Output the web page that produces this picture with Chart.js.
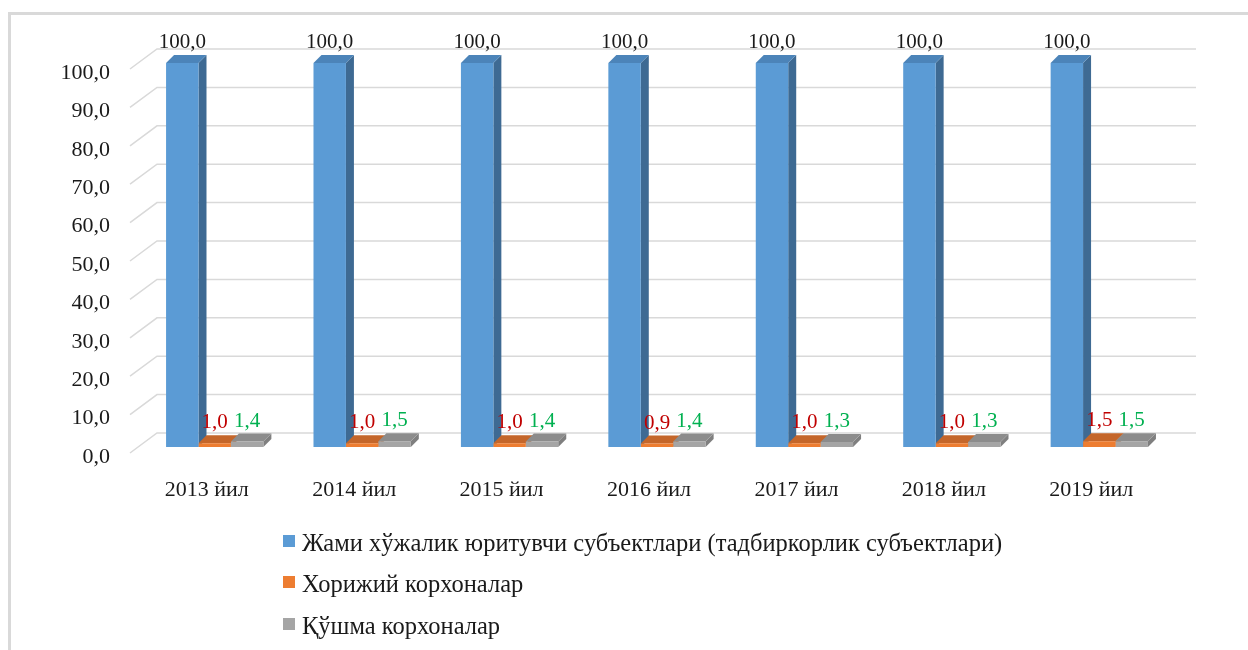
<!DOCTYPE html>
<html>
<head>
<meta charset="utf-8">
<script src="https://cdn.jsdelivr.net/npm/chart.js@4"></script>
<style>
    html, body { margin: 0; padding: 0; background: #fff; }
    #wrap { position: relative; width: 1248px; height: 650px; overflow: hidden; }
    #frame { position: absolute; left: 8px; top: 12px; width: 1300px; height: 700px;
             border-left: 3px solid #d9d9d9; border-top: 3px solid #d9d9d9; }
    #chart { position: absolute; left: 0; top: 0; }
    #legend { position: absolute; left: 283px; top: 522px; font-family: "Liberation Serif", "Times New Roman", serif;
              font-size: 24.5px; color: #1a1a1a; }
    #legend .item { height: 41.5px; display: flex; align-items: center; white-space: nowrap; }
    #legend .box { width: 12px; height: 12px; margin: -4px 7px 0 0; }
</style>
</head>
<body>
<div id="wrap">
    <div id="frame"></div>
    <canvas id="chart" width="1248" height="650"></canvas>
    <div id="legend"></div>
</div>
<script>
const years = ['2013 йил', '2014 йил', '2015 йил', '2016 йил', '2017 йил', '2018 йил', '2019 йил'];
const seriesNames = [
    'Жами хўжалик юритувчи субъектлари (тадбиркорлик субъектлари)',
    'Хорижий корхоналар',
    'Қўшма корхоналар',
];
const totalValues = [100.0, 100.0, 100.0, 100.0, 100.0, 100.0, 100.0];
const foreignValues = [1.0, 1.0, 1.0, 0.9, 1.0, 1.0, 1.5];
const jointValues = [1.4, 1.5, 1.4, 1.4, 1.3, 1.3, 1.5];
const yTicks = [0, 10, 20, 30, 40, 50, 60, 70, 80, 90, 100];

(function () {
    const FONT = '"Liberation Serif", "Times New Roman", serif';
    const frontColors = ['#5b9bd5', '#ed7d31', '#a5a5a5'];
    const sideColors = ['#3e6a93', '#b85f22', '#7f7f7f'];
    const topColors = ['#4c84b9', '#c4662a', '#8c8c8c'];
    const labelColors = ['#1a1a1a', '#c00000', '#00b050'];
    const DX = 8, DY = -8;           // bar depth
    const BACK_DY = -14, BACK_DX = 16; // back wall offset

    function fmt(v) {
        return v.toFixed(1).replace('.', ',');
    }

    const wallPlugin = {
        id: 'wall',
        beforeDatasetsDraw(chart) {
            const ctx = chart.ctx;
            const y = chart.scales.y;
            const area = chart.chartArea;
            ctx.save();
            ctx.strokeStyle = '#d9d9d9';
            ctx.lineWidth = 1.5;
            yTicks.forEach((v) => {
                const yb = y.getPixelForValue(v) + BACK_DY;
                ctx.beginPath();
                ctx.moveTo(130, yb + 20);
                ctx.lineTo(area.left + BACK_DX, yb);
                ctx.lineTo(area.right + 23, yb);
                ctx.stroke();
            });
            // side and top faces, front faces are drawn by Chart.js afterwards
            chart.data.datasets.forEach((ds, i) => {
                const meta = chart.getDatasetMeta(i);
                meta.data.forEach((bar) => {
                    const l = bar.x - bar.width / 2;
                    const r = bar.x + bar.width / 2;
                    ctx.fillStyle = sideColors[i];
                    ctx.beginPath();
                    ctx.moveTo(r, bar.y);
                    ctx.lineTo(r + DX, bar.y + DY);
                    ctx.lineTo(r + DX, bar.base + DY);
                    ctx.lineTo(r, bar.base);
                    ctx.closePath();
                    ctx.fill();
                    ctx.fillStyle = topColors[i];
                    ctx.beginPath();
                    ctx.moveTo(l, bar.y);
                    ctx.lineTo(l + DX, bar.y + DY);
                    ctx.lineTo(r + DX, bar.y + DY);
                    ctx.lineTo(r, bar.y);
                    ctx.closePath();
                    ctx.fill();
                });
            });
            ctx.restore();
        },
        afterDatasetsDraw(chart) {
            const ctx = chart.ctx;
            ctx.save();
            ctx.font = '21px ' + FONT;
            ctx.textAlign = 'center';
            ctx.textBaseline = 'alphabetic';
            chart.data.datasets.forEach((ds, i) => {
                const meta = chart.getDatasetMeta(i);
                ctx.fillStyle = labelColors[i];
                meta.data.forEach((bar, j) => {
                    ctx.fillText(fmt(ds.data[j]), bar.x, bar.y - 15);
                });
            });
            ctx.restore();
        },
    };

    const chart = new Chart(document.getElementById('chart'), {
        type: 'bar',
        data: {
            labels: years,
            datasets: [totalValues, foreignValues, jointValues].map((vals, i) => ({
                label: seriesNames[i],
                data: vals,
                backgroundColor: frontColors[i],
                borderWidth: 0,
                categoryPercentage: 0.66,
                barPercentage: 1.0,
            })),
        },
        options: {
            responsive: false,
            animation: false,
            layout: { padding: { left: 0, right: 75, top: 63, bottom: 143 } },
            plugins: { legend: { display: false }, tooltip: { enabled: false } },
            scales: {
                x: {
                    grid: { display: false },
                    border: { display: false },
                    ticks: { color: '#1a1a1a', font: { family: FONT, size: 22 }, padding: 22, labelOffset: -8, maxRotation: 0 },
                    afterFit(scale) { scale.height = 60; },
                },
                y: {
                    min: 0,
                    max: 100,
                    grid: { display: false, drawTicks: false },
                    border: { display: false },
                    ticks: {
                        stepSize: 10,
                        padding: 31,
                        labelOffset: 10,
                        color: '#1a1a1a',
                        font: { family: FONT, size: 22 },
                        callback: (v) => fmt(v),
                    },
                    afterFit(scale) { scale.width = 141; },
                },
            },
        },
        plugins: [wallPlugin],
    });

    const legend = document.getElementById('legend');
    chart.data.datasets.forEach((ds, i) => {
        const item = document.createElement('div');
        item.className = 'item';
        const box = document.createElement('span');
        box.className = 'box';
        box.style.background = frontColors[i];
        const text = document.createElement('span');
        text.textContent = ds.label;
        item.appendChild(box);
        item.appendChild(text);
        legend.appendChild(item);
    });
})();
</script>
</body>
</html>
